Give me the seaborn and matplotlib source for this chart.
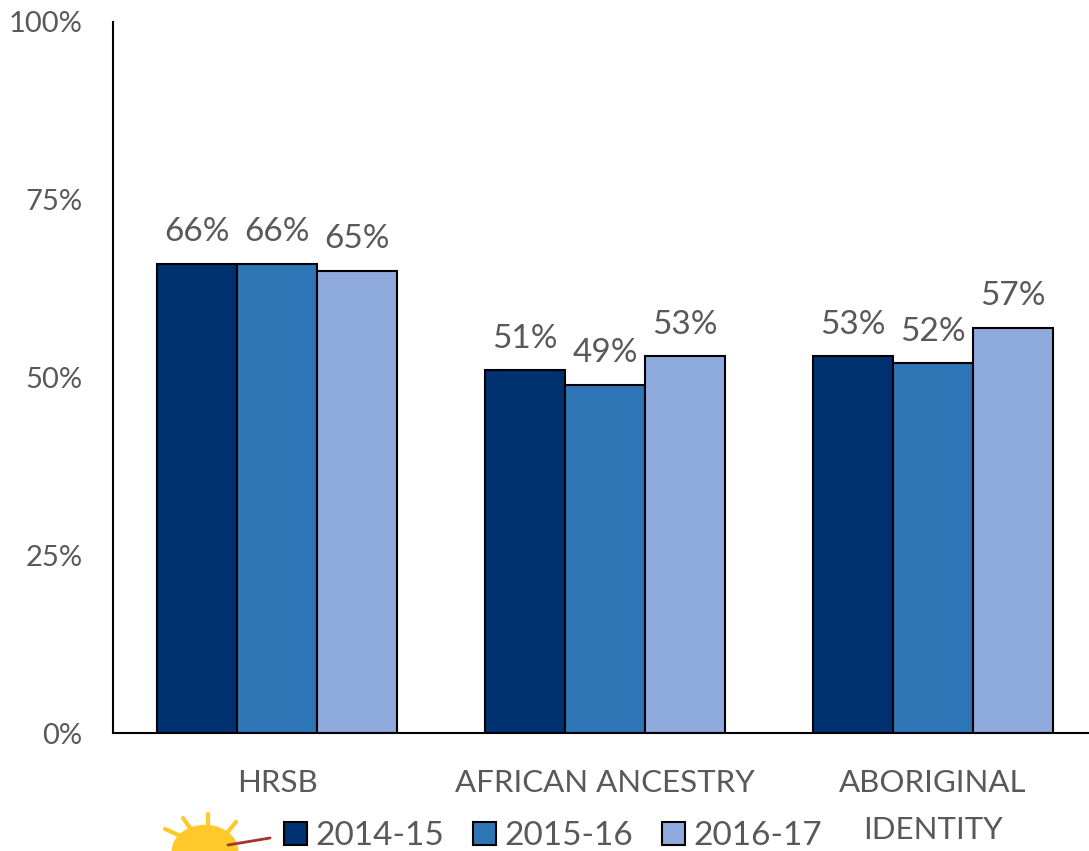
import pandas as pd
import seaborn as sns
import matplotlib.pyplot as plt
from matplotlib.patches import Wedge

# data
groups = ['HRSB', 'AFRICAN ANCESTRY', 'ABORIGINAL\nIDENTITY']
years = ['2014-15', '2015-16', '2016-17']
rate_2014 = [66, 51, 53]
rate_2015 = [66, 49, 52]
rate_2016 = [65, 53, 57]
ytick_vals = [0, 25, 50, 75, 100]
colors = ['#003170', '#2E75B6', '#8FAADC']

df = pd.DataFrame({
    'group': groups * 3,
    'year': [years[0]] * 3 + [years[1]] * 3 + [years[2]] * 3,
    'rate': rate_2014 + rate_2015 + rate_2016,
})

sns.set_style('white')
plt.rcParams['font.family'] = ['Lato', 'DejaVu Sans']
txt = '#595959'

fig = plt.figure(figsize=(10.89, 8.51), dpi=100)
ax = fig.add_axes([113 / 1089, 118 / 851, 984 / 1089, 711 / 851])

sns.barplot(data=df, x='group', y='rate', hue='year', palette=colors,
            width=0.73, edgecolor='black', linewidth=1.5, saturation=1, ax=ax)

for c in ax.containers:
    ax.bar_label(c, fmt='%d%%', padding=12, fontsize=24, color=txt)

ax.set_ylim(0, 100)
ax.set_xlim(-0.5, 2.5)
ax.set_yticks(ytick_vals)
ax.set_yticklabels([f'{v}%' for v in ytick_vals])
ax.set_xlabel('')
ax.set_ylabel('')
ax.tick_params(axis='y', length=0, pad=22, labelsize=21, labelcolor=txt)
ax.tick_params(axis='x', length=0, pad=26, labelsize=22.5, labelcolor=txt)
for lbl in ax.get_xticklabels():
    lbl.set_verticalalignment('top')
    lbl.set_linespacing(1.8)
sns.despine(ax=ax)
ax.spines['left'].set_color('black')
ax.spines['bottom'].set_color('black')
ax.spines['left'].set_linewidth(1.5)
ax.spines['bottom'].set_linewidth(1.5)

handles, labels = ax.get_legend_handles_labels()
ax.get_legend().remove()
leg = fig.legend(handles, labels, loc='center', bbox_to_anchor=(553 / 1089, 15 / 851),
                 ncol=3, frameon=False, fontsize=24, handlelength=0.7, handleheight=0.7,
                 handletextpad=0.25, columnspacing=0.85, labelcolor=txt)

# small sun logo in the bottom-left corner
sun = Wedge((205 / 1089, 0), 0.03, 0, 180, color='#FFC929', transform=fig.transFigure,
            clip_on=False)
fig.patches.append(sun)
for x0, y0, x1, y1 in [(165, 829, 185, 838), (183, 818, 193, 832), (208, 814, 208, 828),
                       (236, 822, 226, 834)]:
    fig.add_artist(plt.Line2D([x0 / 1089, x1 / 1089], [1 - y0 / 851, 1 - y1 / 851],
                              color='#FFC929', lw=3, transform=fig.transFigure))
fig.add_artist(plt.Line2D([228 / 1089, 270 / 1089], [1 - 845 / 851, 1 - 838 / 851],
                          color='#A8322D', lw=2, transform=fig.transFigure))

fig.savefig('out.png', dpi=100)
